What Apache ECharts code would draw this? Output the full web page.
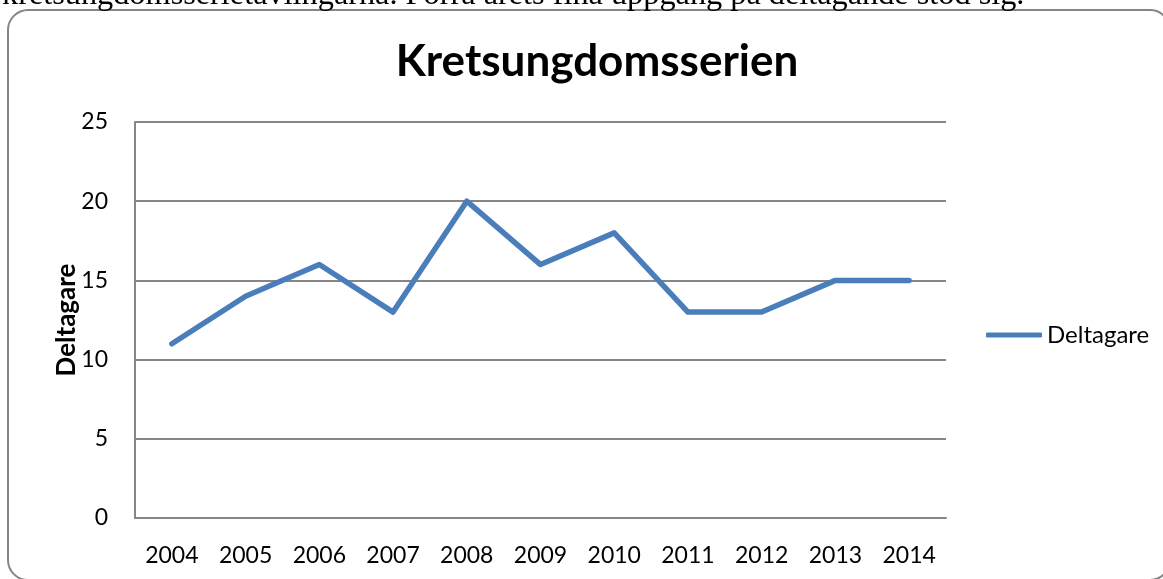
<!DOCTYPE html>
<html>
<head>
<meta charset="utf-8">
<script src="https://cdn.jsdelivr.net/npm/echarts@6/dist/echarts.min.js"></script>
<style>
html,body{margin:0;padding:0;background:#fff;}
#chart{width:1163px;height:579px;}
</style>
</head>
<body>
<div id="chart"></div>
<script>
const categories = ['2004','2005','2006','2007','2008','2009','2010','2011','2012','2013','2014'];
const deltagare = [11,14,16,13,20,16,18,13,13,15,15];
const seriesName = 'Deltagare';
const titleText = 'Kretsungdomsserien';
const yAxisName = 'Deltagare';
const topText = 'kretsungdomsserietävlingarna. Förra årets fina uppgång på deltagande stod sig.';

const chart = echarts.init(document.getElementById('chart'));
const gray = '#868686';
chart.setOption({
  backgroundColor: '#fff',
  animation: false,
  title: {
    text: titleText,
    left: 592, textAlign: 'center', top: 35,
    textStyle: {fontFamily: 'Lato', fontWeight: 'bold', fontSize: 44, color: '#000'}
  },
  graphic: [
    {type: 'rect', shape: {x: 8, y: 10, width: 1162, height: 570, r: 20},
     style: {fill: 'none', stroke: gray, lineWidth: 2}, z: -1},
    {type: 'text', x: 2, y: 12,
     style: {text: topText, fontFamily: 'Liberation Serif', fontSize: 32.3, fill: '#000',
             verticalAlign: 'bottom'}}
  ],
  legend: {
    data: [seriesName], left: 986, top: 323, orient: 'vertical', padding: 0,
    icon: 'roundRect', itemWidth: 56, itemHeight: 5,
    textStyle: {fontFamily: 'Lato', fontSize: 24, color: '#000', padding: [0,0,0,0]}
  },
  grid: {left: 135, right: 217, top: 122, bottom: 61, containLabel: false},
  xAxis: {
    type: 'category', data: categories, boundaryGap: true,
    axisLine: {show: true, lineStyle: {color: gray, width: 2}},
    axisTick: {show: false},
    axisLabel: {fontFamily: 'Lato', fontSize: 23, color: '#000', margin: 26}
  },
  yAxis: {
    type: 'value', min: 0, max: 25, interval: 5,
    name: yAxisName, nameLocation: 'middle', nameGap: 55, nameRotate: 90,
    nameMoveOverlap: false,
    nameTextStyle: {fontFamily: 'Lato', fontWeight: 'bold', fontSize: 26, color: '#000'},
    axisLine: {show: true, lineStyle: {color: gray, width: 2}},
    axisTick: {show: false},
    axisLabel: {fontFamily: 'Lato', fontSize: 23, color: '#000', margin: 27},
    splitLine: {show: true, lineStyle: {color: gray, width: 2}}
  },
  series: [{
    name: seriesName, type: 'line', data: deltagare,
    showSymbol: false, symbol: 'none',
    lineStyle: {color: '#4A7EBB', width: 5.5, cap: 'round', join: 'round'},
    itemStyle: {color: '#4A7EBB'}
  }]
});
</script>
</body>
</html>
